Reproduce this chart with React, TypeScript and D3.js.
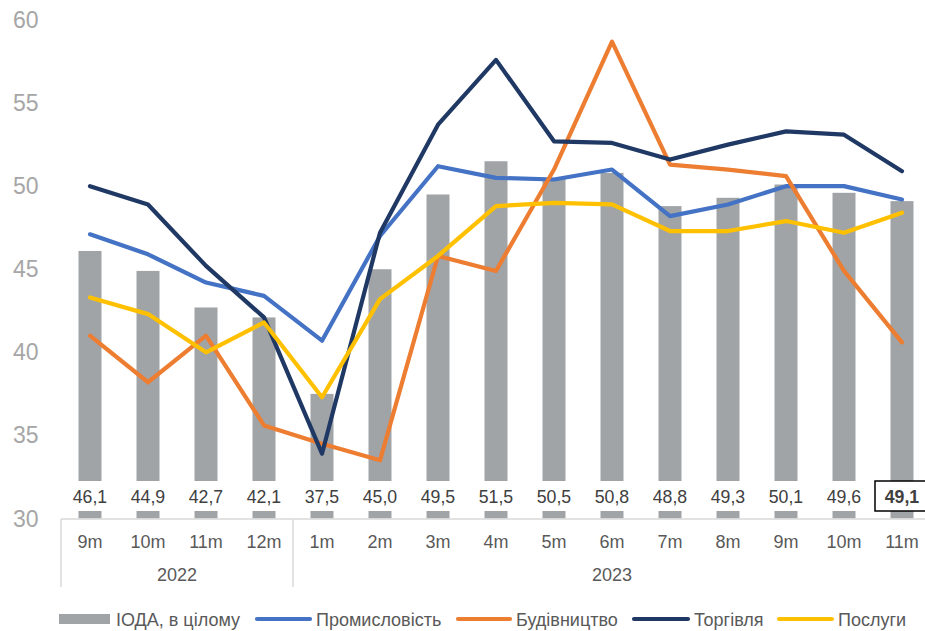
import React from "react";
import * as d3 from "d3";

const months = ["9m", "10m", "11m", "12m", "1m", "2m", "3m", "4m", "5m", "6m", "7m", "8m", "9m", "10m", "11m"];
const years = [
  { label: "2022", from: 0, to: 3 },
  { label: "2023", from: 4, to: 14 },
];
const overall = [46.1, 44.9, 42.7, 42.1, 37.5, 45.0, 49.5, 51.5, 50.5, 50.8, 48.8, 49.3, 50.1, 49.6, 49.1];
const industry = [47.1, 45.9, 44.2, 43.4, 40.7, 47.0, 51.2, 50.5, 50.4, 51.0, 48.2, 48.9, 50.0, 50.0, 49.2];
const construction = [41.0, 38.2, 41.0, 35.6, 34.5, 33.5, 45.8, 44.9, 51.0, 58.7, 51.3, 51.0, 50.6, 44.9, 40.6];
const trade = [50.0, 48.9, 45.2, 42.1, 33.9, 47.2, 53.7, 57.6, 52.7, 52.6, 51.6, 52.5, 53.3, 53.1, 50.9];
const services = [43.3, 42.3, 40.0, 41.8, 37.3, 43.2, 45.8, 48.8, 49.0, 48.9, 47.3, 47.3, 47.9, 47.2, 48.4];
const yTicks = [30, 35, 40, 45, 50, 55, 60];

const lineSeries = [
  { name: "Промисловість", values: industry, color: "#4472c4" },
  { name: "Будівництво", values: construction, color: "#ed7d31" },
  { name: "Торгівля", values: trade, color: "#1f3864" },
  { name: "Послуги", values: services, color: "#ffc000" },
];

const fmt = (v: number) => v.toFixed(1).replace(".", ",");
const FONT = "Liberation Sans, Arial, sans-serif";

export default function App() {
  const W = 925, H = 631;
  const x = d3.scaleBand<number>().domain(d3.range(months.length)).range([61, 931]).padding(0);
  const y = d3.scaleLinear().domain([30, 60]).range([518.5, 20]);
  const bw = 23;
  const cx = (i: number) => (x(i) as number) + x.bandwidth() / 2;
  const line = d3.line<number>().x((_, i) => cx(i)).y((v) => y(v));

  const legendItems = [
    { name: "ІОДА, в цілому", type: "bar", color: "#a0a4a7", x0: 59, x1: 110 },
    { name: "Промисловість", type: "line", color: "#4472c4", x0: 257, x1: 310 },
    { name: "Будівництво", type: "line", color: "#ed7d31", x0: 458, x1: 510 },
    { name: "Торгівля", type: "line", color: "#1f3864", x0: 634, x1: 688 },
    { name: "Послуги", type: "line", color: "#ffc000", x0: 779, x1: 832 },
  ];

  return (
    <svg width={W} height={H} style={{ position: "absolute", left: 0, top: 0, background: "#fff" }} fontFamily={FONT}>
      {yTicks.map((t) => (
        <text key={t} x={13} y={y(t)} dy="0.35em" fontSize={23} fill="#a6a6a6">{t}</text>
      ))}
      {overall.map((v, i) => (
        <rect key={i} x={cx(i) - bw / 2} y={y(v)} width={bw} height={y(30) - y(v)} fill="#a0a4a7" />
      ))}
      {lineSeries.map((s) => (
        <path key={s.name} d={line(s.values) || ""} fill="none" stroke={s.color} strokeWidth={4.2} strokeLinejoin="round" strokeLinecap="round" />
      ))}
      {overall.map((v, i) => {
        const last = i === overall.length - 1;
        return (
          <g key={i}>
            <rect x={cx(i) - 27} y={481} width={54} height={30} fill="#fff" stroke={last ? "#000" : "none"} strokeWidth={1.5} />
            <text x={cx(i)} y={497} dy="0.35em" textAnchor="middle" fontSize={17.7} fill="#404040" fontWeight={last ? "bold" : "normal"}>{fmt(v)}</text>
          </g>
        );
      })}
      <line x1={61} x2={931} y1={519} y2={519} stroke="#d9d9d9" strokeWidth={1.5} />
      {[61, cx(3) + x.bandwidth() / 2, 931].map((lx, k) => (
        <line key={k} x1={lx} x2={lx} y1={519} y2={587} stroke="#d9d9d9" strokeWidth={1.5} />
      ))}
      {months.map((m, i) => (
        <text key={i} x={cx(i)} y={542} dy="0.35em" textAnchor="middle" fontSize={18} fill="#595959">{m}</text>
      ))}
      {years.map((yr) => (
        <text key={yr.label} x={(x(yr.from)! + x(yr.to)! + x.bandwidth()) / 2} y={575} dy="0.35em" textAnchor="middle" fontSize={18} fill="#595959">{yr.label}</text>
      ))}
      {legendItems.map((it) => (
        <g key={it.name}>
          {it.type === "bar" ? (
            <rect x={it.x0} y={614} width={it.x1 - it.x0} height={10} fill={it.color} />
          ) : (
            <line x1={it.x0} x2={it.x1} y1={619} y2={619} stroke={it.color} strokeWidth={4.2} strokeLinecap="round" />
          )}
          <text x={it.x1 + 6} y={620} dy="0.35em" fontSize={18} fill="#595959">{it.name}</text>
        </g>
      ))}
    </svg>
  );
}
